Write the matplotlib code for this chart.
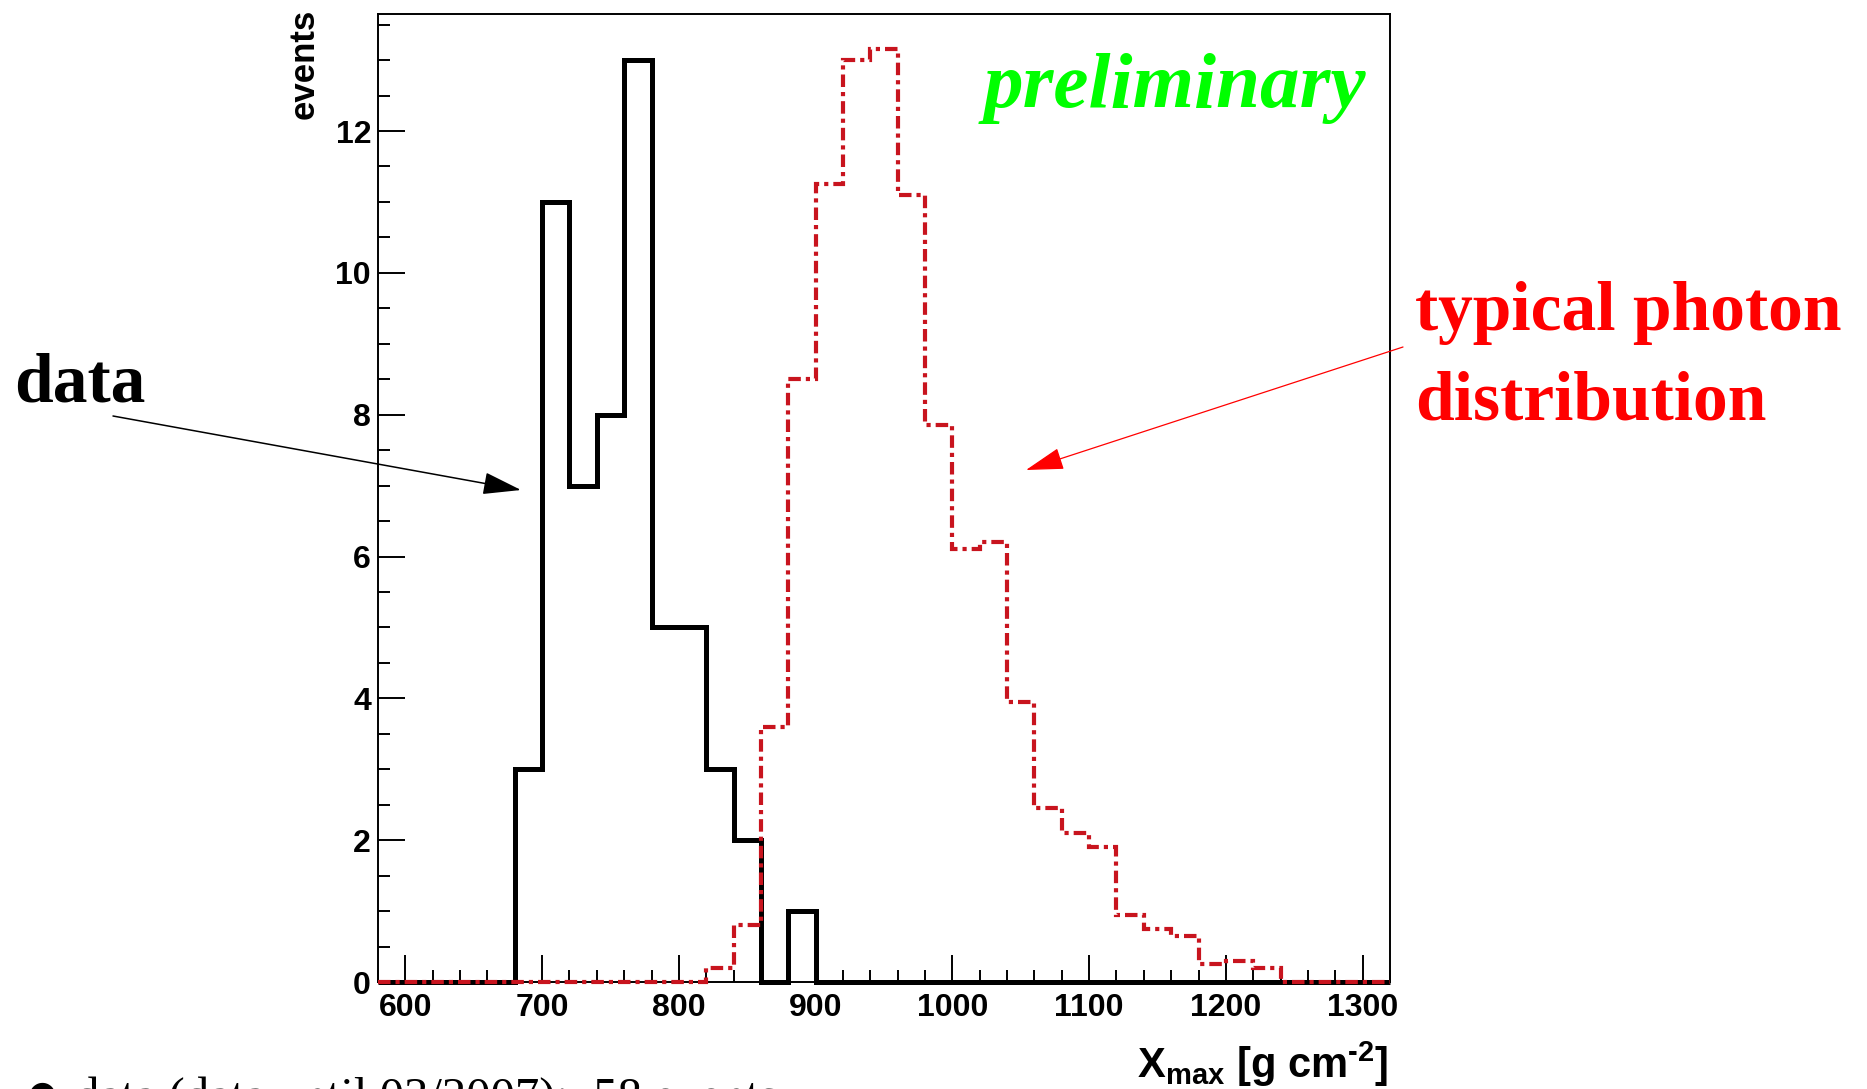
import numpy as np
import matplotlib
matplotlib.use("Agg")
import matplotlib.pyplot as plt
from matplotlib.patches import FancyArrowPatch
from matplotlib.ticker import MultipleLocator

plt.rcParams["axes.unicode_minus"] = False

# ---- data ----
bin_edges = np.arange(580, 1321, 20)
data_counts = [0, 0, 0, 0, 0,
               3, 11, 7, 8, 13, 5, 5, 3, 2, 0, 1,
               0, 0, 0, 0, 0, 0, 0, 0, 0, 0, 0, 0, 0, 0, 0, 0, 0, 0, 0, 0, 0]
photon_counts = [0, 0, 0, 0, 0, 0, 0, 0, 0, 0, 0, 0,
                 0.2, 0.8, 3.6, 8.5, 11.25, 13.0, 13.15, 11.1, 7.85, 6.1, 6.2,
                 3.95, 2.45, 2.1, 1.9, 0.95, 0.75, 0.65, 0.25, 0.3, 0.2,
                 0, 0, 0, 0]
x_ticks = [600, 700, 800, 900, 1000, 1100, 1200, 1300]
y_ticks = [0, 2, 4, 6, 8, 10, 12]

W, H = 1867, 1089
fig = plt.figure(figsize=(W / 100, H / 100), dpi=100)


def P(x, y):
    return (x / W, 1 - y / H)


# axes in pixel coordinates
L, R, T, B = 378, 1390, 14, 982
ax = fig.add_axes([L / W, 1 - B / H, (R - L) / W, (B - T) / H])

ax.stairs(data_counts, bin_edges, color="black", lw=3.6, zorder=3,
          clip_on=False)
ax.stairs(photon_counts, bin_edges, color="#c8141e", lw=3.0,
          linestyle=(0, (3, 1.2, 1, 1.2)), zorder=4, clip_on=False)

ax.set_xlim(580, 1320)
ax.set_ylim(0, 13.65)
ax.set_xticks(x_ticks)
ax.set_yticks(y_ticks)
ax.xaxis.set_minor_locator(MultipleLocator(20))
ax.yaxis.set_minor_locator(MultipleLocator(0.5))
for s in ax.spines.values():
    s.set_linewidth(1.4)
ax.tick_params(which="both", direction="in", top=False, right=False,
               width=1.4, colors="black")
ax.tick_params(which="major", length=19.5)
ax.tick_params(which="minor", length=8.8)
ax.tick_params(axis="x", which="major", pad=8)
ax.tick_params(axis="y", which="major", pad=5)
for lab in ax.get_xticklabels() + ax.get_yticklabels():
    lab.set_fontfamily("Liberation Sans")
    lab.set_fontweight("bold")
    lab.set_fontsize(23)

# axis titles
fig.text(*P(304, 9), "events", rotation=90, ha="center", va="top",
         family="Liberation Sans", weight="bold", fontsize=25)
fig.text(*P(1388, 1078),
         "X$_{\\mathregular{max}}$ [g cm$^{\\mathregular{\u2010 2}}$]".replace("\u2010 2", "\u20102"),
         ha="right", va="baseline", family="Liberation Sans",
         weight="bold", fontsize=30)

# annotations
fig.text(*P(1175, 107), "preliminary", ha="center", va="baseline",
         family="Liberation Serif", weight="bold", style="italic",
         fontsize=57, color="#00ff00")
fig.text(*P(14, 402), "data", ha="left", va="baseline",
         family="Liberation Serif", weight="bold", fontsize=50, color="black")
fig.text(*P(1415, 330), "typical photon", ha="left", va="baseline",
         family="Liberation Serif", weight="bold", fontsize=50, color="#ff0000")
fig.text(*P(1415, 420), "distribution", ha="left", va="baseline",
         family="Liberation Serif", weight="bold", fontsize=50, color="#ff0000")

fig.add_artist(FancyArrowPatch(P(113, 416), P(521, 490), transform=fig.transFigure,
                               arrowstyle="-|>,head_length=24,head_width=7",
                               mutation_scale=1, lw=1.1, color="black",
                               shrinkA=0, shrinkB=0))
fig.add_artist(FancyArrowPatch(P(1403, 347), P(1026, 470), transform=fig.transFigure,
                               arrowstyle="-|>,head_length=24,head_width=7",
                               mutation_scale=1, lw=0.9, color="#ff0000",
                               shrinkA=0, shrinkB=0))

# clipped caption at the bottom edge
fig.text(*P(42, 1094), "\u25cf", ha="center", va="center",
         family="DejaVu Sans", fontsize=24, color="black")
fig.text(*P(75, 1111), "data (data until 03/2007):  58 events",
         ha="left", va="baseline", family="Liberation Serif",
         fontsize=35, color="black")

fig.savefig("out.png", dpi=100, facecolor="white")
